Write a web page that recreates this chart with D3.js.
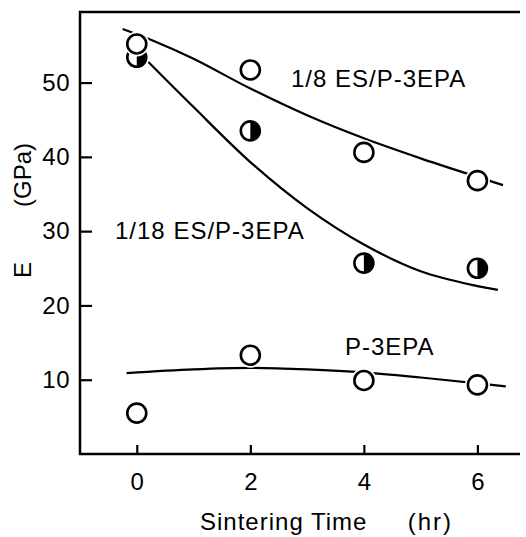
<!DOCTYPE html>
<html>
<head>
<meta charset="utf-8">
<script src="https://cdn.jsdelivr.net/npm/d3@7"></script>
<style>
  body { margin: 0; background: #fff; }
  svg text { font-family: "Liberation Sans", Arial, sans-serif; fill: #000; }
</style>
</head>
<body>
<svg id="chart" width="526" height="537"></svg>
<script>
// sintering time (hr)
const times = [0, 2, 4, 6];
// measured E (GPa)
const es8 = [55.2, 51.7, 40.6, 36.8];      // 1/8 ES/P-3EPA, open circles
const es18 = [53.4, 43.5, 25.7, 25.0];     // 1/18 ES/P-3EPA, half filled
const pure = [5.5, 13.3, 9.9, 9.3];        // P-3EPA, open circles

// hand drawn fit curves
const fit8T = [-0.25, 0.3, 1, 2, 3, 4, 5, 6, 6.45];
const fit8E = [57.2, 55.6, 53.2, 49.2, 45.6, 42.5, 39.8, 37.3, 36.2];
const fit18T = [0.2, 1, 2, 3, 4, 5, 6, 6.36];
const fit18E = [52.8, 46.7, 39.3, 33.1, 28.2, 24.6, 22.6, 22.1];
const fitPT = [-0.18, 1, 2, 3, 4, 5, 6, 6.5];
const fitPE = [10.9, 11.4, 11.6, 11.4, 11.0, 10.3, 9.5, 9.1];

const xTicks = [0, 2, 4, 6];
const yTicks = [10, 20, 30, 40, 50];

const svg = d3.select("#chart");
const m = { left: 80, right: 520, top: 12, bottom: 454 };

const x = d3.scaleLinear().domain([-1, 6.75]).range([m.left, m.right]);
const y = d3.scaleLinear().domain([0, 59.5]).range([m.bottom, m.top]);

// frame (left, bottom, top)
svg.append("path")
  .attr("d", `M${m.right},${m.top}H${m.left}V${m.bottom}H${m.right}`)
  .attr("fill", "none").attr("stroke", "#000").attr("stroke-width", 2.5);

const yAxis = svg.append("g")
  .attr("transform", `translate(${m.left},0)`)
  .call(d3.axisLeft(y).tickValues(yTicks).tickSize(-12).tickPadding(10));
yAxis.select(".domain").remove();
yAxis.selectAll("line").attr("stroke-width", 2.2);
yAxis.selectAll("text").style("font-size", "24px").style("letter-spacing", "0.5px");

const xAxis = svg.append("g")
  .attr("transform", `translate(0,${m.bottom})`)
  .call(d3.axisBottom(x).tickValues(xTicks).tickSize(-9).tickPadding(19));
xAxis.select(".domain").remove();
xAxis.selectAll("line").attr("stroke-width", 2.2);
xAxis.selectAll("text").style("font-size", "24px");

// axis titles
svg.append("text").attr("x", 200).attr("y", 530)
  .style("font-size", "24px").style("letter-spacing", "1px").text("Sintering Time");
svg.append("text").attr("x", 453).attr("y", 530).attr("text-anchor", "end")
  .style("font-size", "24px").style("letter-spacing", "2px").text("(hr)");
svg.append("text").attr("transform", "translate(31,270) rotate(-90)")
  .attr("text-anchor", "middle").style("font-size", "24px").text("E");
svg.append("text").attr("transform", "translate(31,175) rotate(-90)")
  .attr("text-anchor", "middle").style("font-size", "24px").text("(GPa)");

// fit curves
const line = d3.line().x(d => x(d[0])).y(d => y(d[1])).curve(d3.curveCatmullRom);
[[fit8T, fit8E], [fit18T, fit18E], [fitPT, fitPE]].forEach(([t, e]) => {
  svg.append("path")
    .attr("d", line(d3.zip(t, e)))
    .attr("fill", "none").attr("stroke", "#000").attr("stroke-width", 2.2);
});

const r = 9.5;
function openMarks(vals) {
  const g = svg.append("g").selectAll("g").data(d3.zip(times, vals)).join("g")
    .attr("transform", d => `translate(${x(d[0])},${y(d[1])})`);
  g.append("circle").attr("r", r + 3).attr("fill", "#fff");
  g.append("circle").attr("r", r)
    .attr("fill", "#fff").attr("stroke", "#000").attr("stroke-width", 2.6);
}
function halfMarks(vals) {
  const half = d3.arc().innerRadius(0).outerRadius(r).startAngle(0).endAngle(Math.PI);
  const g = svg.append("g").selectAll("g").data(d3.zip(times, vals)).join("g")
    .attr("transform", d => `translate(${x(d[0])},${y(d[1])})`);
  g.append("circle").attr("r", r + 3).attr("fill", "#fff");
  g.append("circle").attr("r", r).attr("fill", "#fff");
  g.append("path").attr("d", half()).attr("fill", "#000");
  g.append("circle").attr("r", r).attr("fill", "none")
    .attr("stroke", "#000").attr("stroke-width", 2.6);
}
halfMarks(es18);
openMarks(es8);
openMarks(pure);

// series labels
const lab = { "font-size": "24px", "letter-spacing": "1px" };
svg.append("text").attr("x", 291).attr("y", 87).style("font-size", lab["font-size"])
  .style("letter-spacing", lab["letter-spacing"]).text("1/8 ES/P-3EPA");
svg.append("text").attr("x", 115).attr("y", 239).style("font-size", lab["font-size"])
  .style("letter-spacing", lab["letter-spacing"]).text("1/18 ES/P-3EPA");
svg.append("text").attr("x", 345).attr("y", 355).style("font-size", lab["font-size"])
  .style("letter-spacing", lab["letter-spacing"]).text("P-3EPA");
</script>
</body>
</html>
